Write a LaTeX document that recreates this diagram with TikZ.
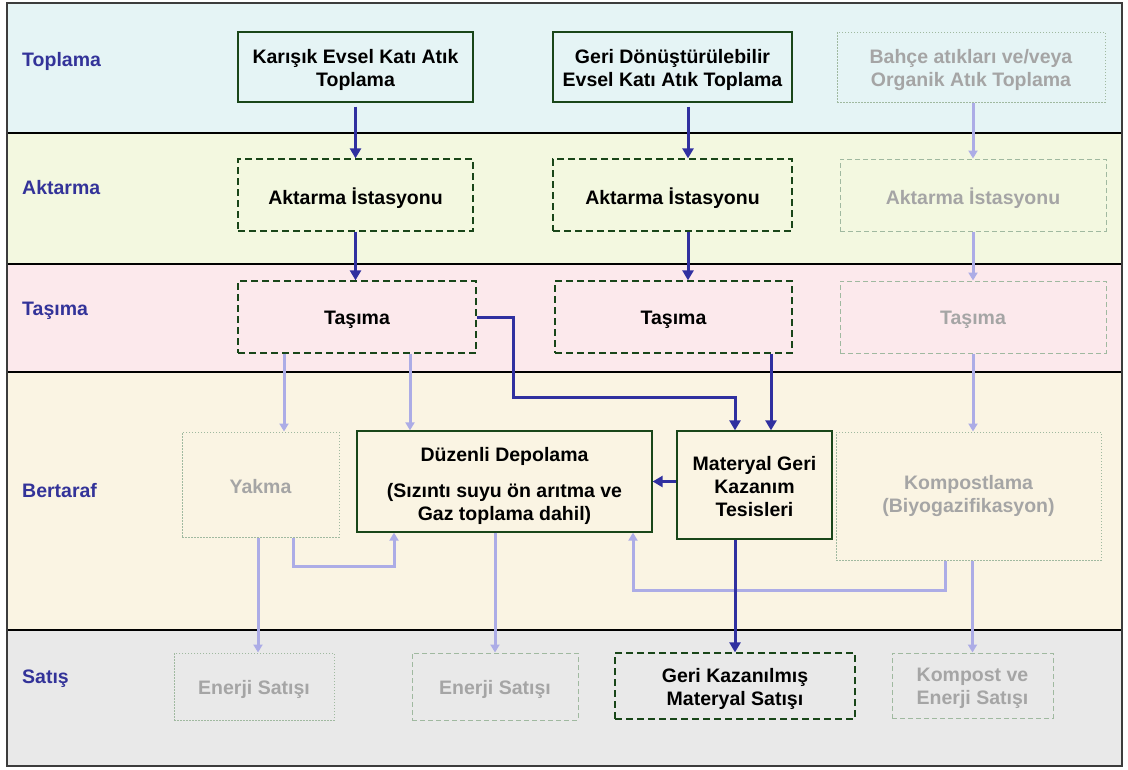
\documentclass[tikz,border=0pt]{standalone}
\usepackage{fontspec}
\setmainfont{Liberation Sans}
\usetikzlibrary{arrows.meta}
\definecolor{bandA}{RGB}{229,244,245}
\definecolor{bandB}{RGB}{243,248,224}
\definecolor{bandC}{RGB}{252,233,236}
\definecolor{bandD}{RGB}{250,244,227}
\definecolor{bandE}{RGB}{233,233,233}
\definecolor{boxgreen}{RGB}{25,70,25}
\definecolor{fadegreen}{RGB}{160,185,160}
\definecolor{fadetext}{RGB}{165,165,165}
\definecolor{arrowblue}{RGB}{48,48,160}
\definecolor{fadeblue}{RGB}{172,172,230}
\definecolor{labelblue}{RGB}{51,51,153}
\definecolor{frame}{RGB}{60,60,60}
\begin{document}
\begin{tikzpicture}[x=1pt,y=-1pt,
  font=\fontsize{19.5}{23}\selectfont\bfseries,
  solidbox/.style={draw=boxgreen, line width=1.3pt, inner sep=0pt},
  dashbox/.style={solidbox, dash pattern=on 7pt off 4pt},
  fadedot/.style={draw=fadegreen, line width=1pt, dash pattern=on 1.5pt off 1.5pt, inner sep=0pt},
  fadedash/.style={draw=fadegreen, line width=1pt, dash pattern=on 5pt off 3pt, inner sep=0pt},
  boxtxt/.style={align=center, inner sep=0pt, yshift=-3pt, text=black},
  fadetxt/.style={boxtxt, text=fadetext},
  barrow/.style={draw=arrowblue, line width=3pt, -{Triangle[length=10pt,width=11pt]}},
  farrow/.style={draw=fadeblue, line width=3pt, -{Triangle[length=8pt,width=9pt]}},
  bandlabel/.style={text=labelblue, anchor=west, inner sep=0pt, yshift=-3pt}]
\useasboundingbox (0,0) rectangle (1128,769);
% bands
\fill[bandA] (7,3) rectangle (1122,133);
\fill[bandB] (7,133) rectangle (1122,264);
\fill[bandC] (7,264) rectangle (1122,372);
\fill[bandD] (7,372) rectangle (1122,630);
\fill[bandE] (7,630) rectangle (1122,766);
\draw[black, line width=1.2pt] (7,133) -- (1122,133);
\draw[black, line width=1.2pt] (7,264) -- (1122,264);
\draw[black, line width=1.2pt] (7,372) -- (1122,372);
\draw[black, line width=1.2pt] (7,630) -- (1122,630);
\draw[frame, line width=2pt] (7,3) rectangle (1122,766);
% band labels
\node[bandlabel] (lt) at (22,58) {Toplama};
\node[bandlabel] (la) at (22,185) {Aktarma};
\node[bandlabel] (lts) at (22,308) {Taşıma};
\node[bandlabel] (lb) at (22,488) {Bertaraf};
\node[bandlabel] (ls) at (22,676) {Satış};
% row 1
\node[solidbox, minimum width=235pt, minimum height=70pt, label={[boxtxt]center:Karışık Evsel Katı Atık\\Toplama}] (k) at (355.5,67) {};
\node[solidbox, minimum width=239pt, minimum height=70pt, label={[boxtxt]center:Geri Dönüştürülebilir\\Evsel Katı Atık Toplama}] (g) at (672.5,67) {};
\node[fadedot, minimum width=268pt, minimum height=70pt, label={[fadetxt]center:Bahçe atıkları ve/veya\\Organik Atık Toplama}] (b) at (971,67) {};
% row 2
\node[dashbox, minimum width=235pt, minimum height=72pt, label={[boxtxt]center:Aktarma İstasyonu}] (a1) at (355.5,195) {};
\node[dashbox, minimum width=239pt, minimum height=72pt, label={[boxtxt]center:Aktarma İstasyonu}] (a2) at (672.5,195) {};
\node[fadedash, minimum width=266pt, minimum height=72pt, label={[fadetxt]center:Aktarma İstasyonu}] (a3) at (973,195) {};
% row 3
\node[dashbox, minimum width=238pt, minimum height=72pt, label={[boxtxt]center:Taşıma}] (t1) at (357,317) {};
\node[dashbox, minimum width=237pt, minimum height=72pt, label={[boxtxt]center:Taşıma}] (t2) at (673.5,317) {};
\node[fadedash, minimum width=266pt, minimum height=72pt, label={[fadetxt]center:Taşıma}] (t3) at (973,317) {};
% row 4
\node[fadedot, minimum width=157pt, minimum height=105pt, label={[fadetxt, yshift=1pt]center:Yakma}] (yk) at (260.5,484.5) {};
\node[solidbox, minimum width=295pt, minimum height=101pt, label={[boxtxt, yshift=-1.5pt]center:Düzenli Depolama\\[13pt](Sızıntı suyu ön arıtma ve\\Gaz toplama dahil)}] (dd) at (504.5,481.5) {};
\node[solidbox, minimum width=155pt, minimum height=108pt, label={[boxtxt, yshift=1pt]center:Materyal Geri\\Kazanım\\Tesisleri}] (mgk) at (754.5,485) {};
\node[fadedot, minimum width=265pt, minimum height=128pt, label={[fadetxt, yshift=3pt]center:Kompostlama\\(Biyogazifikasyon)}] (komp) at (968.5,496) {};
% row 5
\node[fadedot, minimum width=160pt, minimum height=67pt, label={[fadetxt]center:Enerji Satışı}] (e1) at (254,686.5) {};
\node[fadedash, minimum width=166pt, minimum height=67pt, label={[fadetxt]center:Enerji Satışı}] (e2) at (495,686.5) {};
\node[dashbox, minimum width=240pt, minimum height=66pt, label={[boxtxt]center:Geri Kazanılmış\\Materyal Satışı}] (gk) at (735,686) {};
\node[fadedash, minimum width=161pt, minimum height=65pt, label={[fadetxt]center:Kompost ve\\Enerji Satışı}] (ks) at (972.5,685.5) {};
% helper coordinates
\coordinate (xg) at (688,0);
\coordinate (x735) at (735,0);
\coordinate (x771) at (771,0);
\coordinate (x973) at (973,0);
\coordinate (x284) at (284,0);
\coordinate (x410) at (410,0);
\coordinate (x258) at (258,0);
\coordinate (x293) at (293,0);
\coordinate (x945) at (945,0);
\coordinate (p1) at (513,397);
\coordinate (q1) at (394,566);
\coordinate (q2) at (633,590);
% faded connectors
\draw[farrow] (b.south -| x973) -- (a3.north);
\draw[farrow] (a3.south) -- (t3.north);
\draw[farrow] (t3.south) -- (komp.north -| t3.south);
\draw[farrow] (t1.south -| x284) -- (yk.north -| x284);
\draw[farrow] (t1.south -| x410) -- (dd.north -| x410);
\draw[farrow] (yk.south -| x258) -- (e1.north -| x258);
\draw[farrow] (yk.south -| x293) |- (q1) -- (dd.south -| q1);
\draw[farrow] (dd.south -| e2.north) -- (e2.north);
\draw[farrow] (komp.south -| x945) |- (q2) -- (dd.south -| q2);
\draw[farrow] (komp.south -| ks.north) -- (ks.north);
% main connectors
\draw[barrow, shorten <=4pt] (k.south) -- (a1.north);
\draw[barrow] (a1.south) -- (a1.south |- t1.north);
\draw[barrow, shorten <=4pt] (g.south -| xg) -- (a2.north -| xg);
\draw[barrow] (a2.south -| xg) -- (t2.north -| xg);
\draw[barrow] (t1.east) -| (p1) -| (mgk.north -| x735);
\draw[barrow] (t2.south -| x771) -- (mgk.north -| x771);
\draw[barrow] (mgk.west |- dd.east) -- (dd.east);
\draw[barrow] (mgk.south -| x735) -- (gk.north);
\end{tikzpicture}
\end{document}
